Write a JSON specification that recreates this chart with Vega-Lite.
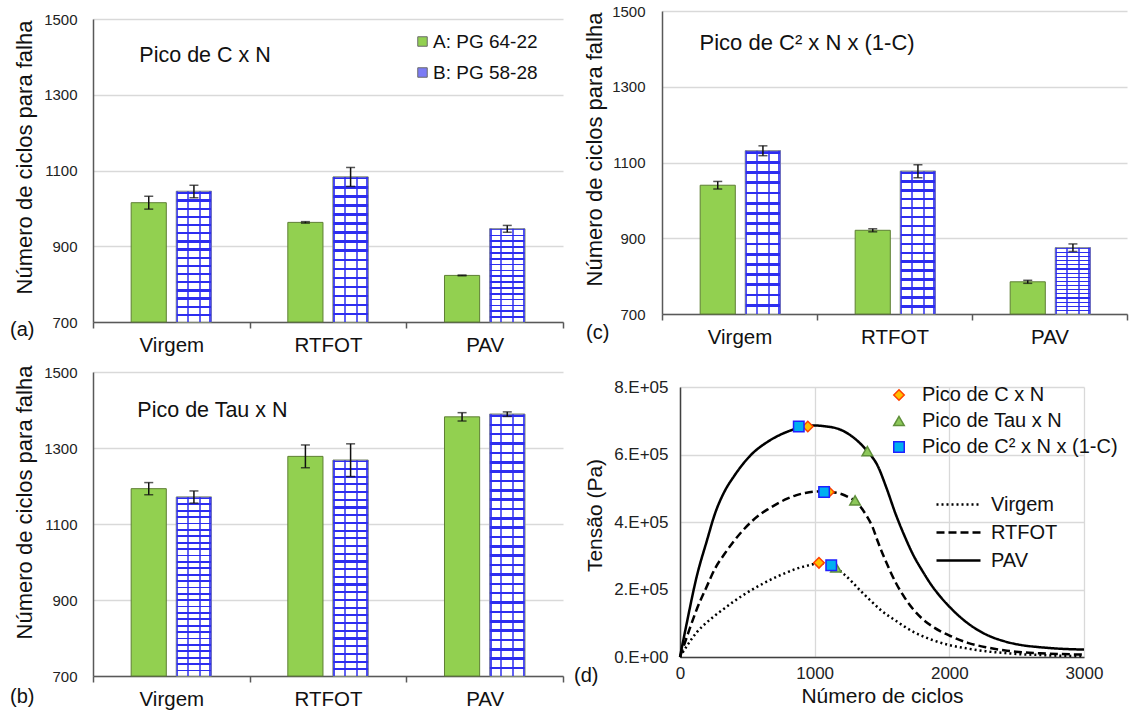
{
  "$schema": "https://vega.github.io/schema/vega-lite/v6.json",
  "padding": {"left": 10, "top": 4, "right": 5, "bottom": 2},
  "autosize": {"type": "pad"},
  "background": "white",
  "config": {
    "view": {"stroke": null},
    "font": "Liberation Sans",
    "axis": {"labelFont": "Liberation Sans", "titleFont": "Liberation Sans", "labelColor": "#222222", "titleColor": "#111111", "titleFontWeight": "normal", "gridColor": "#d9d9d9", "gridWidth": 1.3, "domainColor": "#595959", "domainWidth": 1.5, "tickColor": "#595959", "tickWidth": 1.5},
    "legend": {"labelFont": "Liberation Sans", "labelColor": "#111111", "labelLimit": 400},
    "title": {"font": "Liberation Sans", "fontWeight": "normal", "color": "#111111"}
  },
  "datasets": {
    "bars": [
      {"panel": "a", "cond": "Virgem", "grp": "A: PG 64-22", "v": 1015, "lo": 998, "hi": 1032},
      {"panel": "a", "cond": "Virgem", "grp": "B: PG 58-28", "v": 1045, "lo": 1028, "hi": 1061},
      {"panel": "a", "cond": "RTFOT", "grp": "A: PG 64-22", "v": 963, "lo": 961, "hi": 965},
      {"panel": "a", "cond": "RTFOT", "grp": "B: PG 58-28", "v": 1083, "lo": 1058, "hi": 1108},
      {"panel": "a", "cond": "PAV", "grp": "A: PG 64-22", "v": 823, "lo": 822, "hi": 824},
      {"panel": "a", "cond": "PAV", "grp": "B: PG 58-28", "v": 946, "lo": 937, "hi": 955},
      {"panel": "b", "cond": "Virgem", "grp": "A: PG 64-22", "v": 1193, "lo": 1177, "hi": 1209},
      {"panel": "b", "cond": "Virgem", "grp": "B: PG 58-28", "v": 1171, "lo": 1155, "hi": 1187},
      {"panel": "b", "cond": "RTFOT", "grp": "A: PG 64-22", "v": 1278, "lo": 1248, "hi": 1308},
      {"panel": "b", "cond": "RTFOT", "grp": "B: PG 58-28", "v": 1268, "lo": 1225, "hi": 1311},
      {"panel": "b", "cond": "PAV", "grp": "A: PG 64-22", "v": 1382, "lo": 1371, "hi": 1393},
      {"panel": "b", "cond": "PAV", "grp": "B: PG 58-28", "v": 1389, "lo": 1383, "hi": 1395},
      {"panel": "c", "cond": "Virgem", "grp": "A: PG 64-22", "v": 1040, "lo": 1030, "hi": 1050},
      {"panel": "c", "cond": "Virgem", "grp": "B: PG 58-28", "v": 1131, "lo": 1118, "hi": 1144},
      {"panel": "c", "cond": "RTFOT", "grp": "A: PG 64-22", "v": 921, "lo": 917, "hi": 925},
      {"panel": "c", "cond": "RTFOT", "grp": "B: PG 58-28", "v": 1077, "lo": 1060, "hi": 1094},
      {"panel": "c", "cond": "PAV", "grp": "A: PG 64-22", "v": 785, "lo": 781, "hi": 789},
      {"panel": "c", "cond": "PAV", "grp": "B: PG 58-28", "v": 875, "lo": 865, "hi": 885}
    ],
    "curves": [
      {"cond": "Virgem", "n": 0, "t": 0}, {"cond": "Virgem", "n": 60, "t": 38000}, {"cond": "Virgem", "n": 126, "t": 74000}, {"cond": "Virgem", "n": 200, "t": 103000},
      {"cond": "Virgem", "n": 260, "t": 123000}, {"cond": "Virgem", "n": 330, "t": 144000}, {"cond": "Virgem", "n": 394, "t": 163000}, {"cond": "Virgem", "n": 460, "t": 181000},
      {"cond": "Virgem", "n": 528, "t": 198000}, {"cond": "Virgem", "n": 600, "t": 214000}, {"cond": "Virgem", "n": 662, "t": 227000}, {"cond": "Virgem", "n": 730, "t": 240000},
      {"cond": "Virgem", "n": 796, "t": 251000}, {"cond": "Virgem", "n": 860, "t": 261000}, {"cond": "Virgem", "n": 930, "t": 269000}, {"cond": "Virgem", "n": 1000, "t": 276000},
      {"cond": "Virgem", "n": 1040, "t": 278000}, {"cond": "Virgem", "n": 1085, "t": 276000}, {"cond": "Virgem", "n": 1145, "t": 267000}, {"cond": "Virgem", "n": 1210, "t": 248000},
      {"cond": "Virgem", "n": 1279, "t": 222000}, {"cond": "Virgem", "n": 1346, "t": 194000}, {"cond": "Virgem", "n": 1413, "t": 168000}, {"cond": "Virgem", "n": 1500, "t": 136000},
      {"cond": "Virgem", "n": 1600, "t": 108000}, {"cond": "Virgem", "n": 1668, "t": 90000}, {"cond": "Virgem", "n": 1735, "t": 74000}, {"cond": "Virgem", "n": 1800, "t": 62000},
      {"cond": "Virgem", "n": 1869, "t": 51000}, {"cond": "Virgem", "n": 2003, "t": 35000}, {"cond": "Virgem", "n": 2137, "t": 25000}, {"cond": "Virgem", "n": 2271, "t": 17000},
      {"cond": "Virgem", "n": 2405, "t": 12000}, {"cond": "Virgem", "n": 2540, "t": 8000}, {"cond": "Virgem", "n": 2673, "t": 6000}, {"cond": "Virgem", "n": 2800, "t": 4000},
      {"cond": "Virgem", "n": 3000, "t": 3000},
      {"cond": "RTFOT", "n": 0, "t": 0}, {"cond": "RTFOT", "n": 60, "t": 70000}, {"cond": "RTFOT", "n": 126, "t": 143000}, {"cond": "RTFOT", "n": 200, "t": 210000},
      {"cond": "RTFOT", "n": 260, "t": 262000}, {"cond": "RTFOT", "n": 330, "t": 305000}, {"cond": "RTFOT", "n": 394, "t": 340000}, {"cond": "RTFOT", "n": 460, "t": 372000},
      {"cond": "RTFOT", "n": 528, "t": 400000}, {"cond": "RTFOT", "n": 600, "t": 424000}, {"cond": "RTFOT", "n": 662, "t": 440000}, {"cond": "RTFOT", "n": 730, "t": 456000},
      {"cond": "RTFOT", "n": 796, "t": 469000}, {"cond": "RTFOT", "n": 860, "t": 479000}, {"cond": "RTFOT", "n": 930, "t": 486000}, {"cond": "RTFOT", "n": 1000, "t": 490000},
      {"cond": "RTFOT", "n": 1064, "t": 491000}, {"cond": "RTFOT", "n": 1130, "t": 489000}, {"cond": "RTFOT", "n": 1198, "t": 483000}, {"cond": "RTFOT", "n": 1260, "t": 472000},
      {"cond": "RTFOT", "n": 1306, "t": 461000}, {"cond": "RTFOT", "n": 1350, "t": 440000}, {"cond": "RTFOT", "n": 1386, "t": 418000}, {"cond": "RTFOT", "n": 1430, "t": 385000},
      {"cond": "RTFOT", "n": 1466, "t": 345000}, {"cond": "RTFOT", "n": 1530, "t": 282000}, {"cond": "RTFOT", "n": 1600, "t": 222000}, {"cond": "RTFOT", "n": 1668, "t": 176000},
      {"cond": "RTFOT", "n": 1735, "t": 140000}, {"cond": "RTFOT", "n": 1800, "t": 113000}, {"cond": "RTFOT", "n": 1869, "t": 92000}, {"cond": "RTFOT", "n": 1935, "t": 76000},
      {"cond": "RTFOT", "n": 2003, "t": 63000}, {"cond": "RTFOT", "n": 2137, "t": 42000}, {"cond": "RTFOT", "n": 2271, "t": 29000}, {"cond": "RTFOT", "n": 2405, "t": 20000},
      {"cond": "RTFOT", "n": 2540, "t": 14000}, {"cond": "RTFOT", "n": 2673, "t": 11000}, {"cond": "RTFOT", "n": 2800, "t": 9000}, {"cond": "RTFOT", "n": 3000, "t": 7000},
      {"cond": "PAV", "n": 0, "t": 0}, {"cond": "PAV", "n": 50, "t": 100000}, {"cond": "PAV", "n": 125, "t": 240000}, {"cond": "PAV", "n": 200, "t": 345000},
      {"cond": "PAV", "n": 260, "t": 425000}, {"cond": "PAV", "n": 330, "t": 490000}, {"cond": "PAV", "n": 400, "t": 535000}, {"cond": "PAV", "n": 530, "t": 600000},
      {"cond": "PAV", "n": 660, "t": 640000}, {"cond": "PAV", "n": 800, "t": 668000}, {"cond": "PAV", "n": 930, "t": 683000}, {"cond": "PAV", "n": 1000, "t": 686000},
      {"cond": "PAV", "n": 1070, "t": 684000}, {"cond": "PAV", "n": 1200, "t": 672000}, {"cond": "PAV", "n": 1330, "t": 636000}, {"cond": "PAV", "n": 1391, "t": 610000},
      {"cond": "PAV", "n": 1466, "t": 568000}, {"cond": "PAV", "n": 1534, "t": 500000}, {"cond": "PAV", "n": 1600, "t": 425000}, {"cond": "PAV", "n": 1668, "t": 358000},
      {"cond": "PAV", "n": 1735, "t": 300000}, {"cond": "PAV", "n": 1800, "t": 255000}, {"cond": "PAV", "n": 1869, "t": 212000}, {"cond": "PAV", "n": 1935, "t": 178000},
      {"cond": "PAV", "n": 2003, "t": 148000}, {"cond": "PAV", "n": 2137, "t": 100000}, {"cond": "PAV", "n": 2271, "t": 67000}, {"cond": "PAV", "n": 2405, "t": 47000},
      {"cond": "PAV", "n": 2540, "t": 35000}, {"cond": "PAV", "n": 2673, "t": 29000}, {"cond": "PAV", "n": 2800, "t": 25000}, {"cond": "PAV", "n": 3000, "t": 22000}
    ],
    "peaks": [
      {"pk": "Pico de Tau x N", "cond": "Virgem", "n": 1158, "t": 265000},
      {"pk": "Pico de Tau x N", "cond": "RTFOT", "n": 1300, "t": 464000},
      {"pk": "Pico de Tau x N", "cond": "PAV", "n": 1391, "t": 610000},
      {"pk": "Pico de C x N", "cond": "Virgem", "n": 1032, "t": 279000},
      {"pk": "Pico de C x N", "cond": "RTFOT", "n": 1105, "t": 489000},
      {"pk": "Pico de C x N", "cond": "PAV", "n": 949, "t": 683000},
      {"pk": "Pico de C² x N x (1-C)", "cond": "Virgem", "n": 1123, "t": 272000},
      {"pk": "Pico de C² x N x (1-C)", "cond": "RTFOT", "n": 1070, "t": 489000},
      {"pk": "Pico de C² x N x (1-C)", "cond": "PAV", "n": 882, "t": 683000}
    ]
  },
  "resolve": {"scale": {"color": "independent", "fill": "independent", "stroke": "independent", "shape": "independent", "strokeDash": "independent"}},
  "hconcat": [
    {
      "resolve": {"scale": {"color": "independent", "fill": "independent", "stroke": "independent", "shape": "independent", "strokeDash": "independent"}},
      "vconcat": [
        {"width": 1, "height": 1, "data": {"values": []}, "mark": "point"},
        {
          "resolve": {"scale": {"color": "independent", "fill": "independent", "stroke": "independent", "shape": "independent", "strokeDash": "independent"}},
          "vconcat": [
            {
              "width": 470, "height": 303,
              "data": {"name": "bars"},
              "transform": [{"filter": "datum.panel == 'a'"}],
              "title": {"text": "(a)", "orient": "bottom", "anchor": "start", "frame": "group", "offset": -36, "dx": -83, "fontSize": 20},
              "encoding": {
                "x": {"field": "cond", "type": "nominal", "title": null, "scale": {"domain": ["Virgem", "RTFOT", "PAV"], "paddingInner": 0, "paddingOuter": 0}, "axis": {"labelAngle": 0, "tickBand": "extent", "ticks": true, "tickSize": 6, "labelFontSize": 20.5, "labelPadding": 7, "labelColor": "#111111"}}
              },
              "layer": [
                {"mark": {"type": "bar", "stroke": "#5e7f34", "strokeWidth": 1},
                 "encoding": {
                   "xOffset": {"field": "grp", "type": "nominal", "scale": {"domain": ["A: PG 64-22", "B: PG 58-28"], "paddingInner": 0.2222, "paddingOuter": 0.8444}},
                   "y": {"field": "v", "type": "quantitative", "title": "Número de ciclos para falha", "scale": {"domain": [700, 1500], "nice": false}, "axis": {"values": [700, 900, 1100, 1300, 1500], "format": "d", "grid": true, "ticks": false, "tickSize": 0, "labelFontSize": 15, "labelPadding": 16, "titleFontSize": 22, "titlePadding": 7, "titleY": 138}},
                   "y2": {"datum": 700},
                   "color": {"field": "grp", "type": "nominal", "scale": {"domain": ["A: PG 64-22", "B: PG 58-28"], "range": ["#92d050", "#7b7bf5"]}, "legend": {"title": null, "orient": "none", "legendX": 320, "legendY": 13, "symbolType": "square", "symbolSize": 90, "symbolStrokeColor": "#6b6b6b", "symbolStrokeWidth": 1, "labelFontSize": 19, "labelOffset": 1, "rowPadding": 11}}
                 }},
                {"transform": [{"filter": "datum.grp == 'B: PG 58-28'"}],
                 "mark": {"type": "bar", "stroke": "#a0a0a0", "strokeWidth": 1, "fill": {"gradient": "linear", "x1": 0, "y1": 0, "x2": 0, "y2": 1, "stops": [
                    {"offset": 0, "color": "#2d2df0"}, {"offset": 0.0175, "color": "#2d2df0"}, {"offset": 0.0175, "color": "#ffffff"}, {"offset": 0.0625, "color": "#ffffff"},
                    {"offset": 0.0625, "color": "#2d2df0"}, {"offset": 0.08, "color": "#2d2df0"}, {"offset": 0.08, "color": "#ffffff"}, {"offset": 0.125, "color": "#ffffff"},
                    {"offset": 0.125, "color": "#2d2df0"}, {"offset": 0.1425, "color": "#2d2df0"}, {"offset": 0.1425, "color": "#ffffff"}, {"offset": 0.1875, "color": "#ffffff"},
                    {"offset": 0.1875, "color": "#2d2df0"}, {"offset": 0.205, "color": "#2d2df0"}, {"offset": 0.205, "color": "#ffffff"}, {"offset": 0.25, "color": "#ffffff"},
                    {"offset": 0.25, "color": "#2d2df0"}, {"offset": 0.2675, "color": "#2d2df0"}, {"offset": 0.2675, "color": "#ffffff"}, {"offset": 0.3125, "color": "#ffffff"},
                    {"offset": 0.3125, "color": "#2d2df0"}, {"offset": 0.33, "color": "#2d2df0"}, {"offset": 0.33, "color": "#ffffff"}, {"offset": 0.375, "color": "#ffffff"},
                    {"offset": 0.375, "color": "#2d2df0"}, {"offset": 0.3925, "color": "#2d2df0"}, {"offset": 0.3925, "color": "#ffffff"}, {"offset": 0.4375, "color": "#ffffff"},
                    {"offset": 0.4375, "color": "#2d2df0"}, {"offset": 0.455, "color": "#2d2df0"}, {"offset": 0.455, "color": "#ffffff"}, {"offset": 0.5, "color": "#ffffff"},
                    {"offset": 0.5, "color": "#2d2df0"}, {"offset": 0.5175, "color": "#2d2df0"}, {"offset": 0.5175, "color": "#ffffff"}, {"offset": 0.5625, "color": "#ffffff"},
                    {"offset": 0.5625, "color": "#2d2df0"}, {"offset": 0.58, "color": "#2d2df0"}, {"offset": 0.58, "color": "#ffffff"}, {"offset": 0.625, "color": "#ffffff"},
                    {"offset": 0.625, "color": "#2d2df0"}, {"offset": 0.6425, "color": "#2d2df0"}, {"offset": 0.6425, "color": "#ffffff"}, {"offset": 0.6875, "color": "#ffffff"},
                    {"offset": 0.6875, "color": "#2d2df0"}, {"offset": 0.705, "color": "#2d2df0"}, {"offset": 0.705, "color": "#ffffff"}, {"offset": 0.75, "color": "#ffffff"},
                    {"offset": 0.75, "color": "#2d2df0"}, {"offset": 0.7675, "color": "#2d2df0"}, {"offset": 0.7675, "color": "#ffffff"}, {"offset": 0.8125, "color": "#ffffff"},
                    {"offset": 0.8125, "color": "#2d2df0"}, {"offset": 0.83, "color": "#2d2df0"}, {"offset": 0.83, "color": "#ffffff"}, {"offset": 0.875, "color": "#ffffff"},
                    {"offset": 0.875, "color": "#2d2df0"}, {"offset": 0.8925, "color": "#2d2df0"}, {"offset": 0.8925, "color": "#ffffff"}, {"offset": 0.9375, "color": "#ffffff"},
                    {"offset": 0.9375, "color": "#2d2df0"}, {"offset": 0.955, "color": "#2d2df0"}, {"offset": 0.955, "color": "#ffffff"}, {"offset": 1, "color": "#ffffff"}
                 ]}},
                 "encoding": {
                   "xOffset": {"field": "grp", "type": "nominal", "scale": {"domain": ["A: PG 64-22", "B: PG 58-28"], "paddingInner": 0.2222, "paddingOuter": 0.8444}},
                   "y": {"field": "v", "type": "quantitative", "title": "Número de ciclos para falha", "scale": {"domain": [700, 1500], "nice": false}},
                   "y2": {"datum": 700}
                 }},
                {"transform": [{"filter": "datum.grp == 'B: PG 58-28'"}],
                 "mark": {"type": "bar", "strokeWidth": 0, "fill": {"gradient": "linear", "x1": 0, "y1": 0, "x2": 1, "y2": 0, "stops": [
                    {"offset": 0, "color": "rgba(45,45,240,0.85)"}, {"offset": 0.06, "color": "rgba(45,45,240,0.85)"}, {"offset": 0.06, "color": "rgba(255,255,255,0)"},
                    {"offset": 0.3, "color": "rgba(255,255,255,0)"}, {"offset": 0.3, "color": "rgba(45,45,240,0.75)"}, {"offset": 0.36, "color": "rgba(45,45,240,0.75)"}, {"offset": 0.36, "color": "rgba(255,255,255,0)"},
                    {"offset": 0.64, "color": "rgba(255,255,255,0)"}, {"offset": 0.64, "color": "rgba(45,45,240,0.75)"}, {"offset": 0.7, "color": "rgba(45,45,240,0.75)"}, {"offset": 0.7, "color": "rgba(255,255,255,0)"},
                    {"offset": 0.94, "color": "rgba(255,255,255,0)"}, {"offset": 0.94, "color": "rgba(45,45,240,0.85)"}, {"offset": 1, "color": "rgba(45,45,240,0.85)"}
                 ]}},
                 "encoding": {
                   "xOffset": {"field": "grp", "type": "nominal", "scale": {"domain": ["A: PG 64-22", "B: PG 58-28"], "paddingInner": 0.2222, "paddingOuter": 0.8444}},
                   "y": {"field": "v", "type": "quantitative", "title": "Número de ciclos para falha", "scale": {"domain": [700, 1500], "nice": false}},
                   "y2": {"datum": 700}
                 }},
                {"mark": {"type": "rule", "color": "#111111", "strokeWidth": 1.5},
                 "encoding": {
                   "xOffset": {"field": "grp", "type": "nominal", "scale": {"domain": ["A: PG 64-22", "B: PG 58-28"], "paddingInner": 0.2222, "paddingOuter": 0.8444}},
                   "y": {"field": "lo", "type": "quantitative", "title": "Número de ciclos para falha", "scale": {"domain": [700, 1500], "nice": false}},
                   "y2": {"field": "hi"}
                 }},
                {"mark": {"type": "tick", "color": "#111111", "size": 9, "thickness": 1.5},
                 "encoding": {
                   "xOffset": {"field": "grp", "type": "nominal", "scale": {"domain": ["A: PG 64-22", "B: PG 58-28"], "paddingInner": 0.2222, "paddingOuter": 0.8444}},
                   "y": {"field": "lo", "type": "quantitative", "title": "Número de ciclos para falha", "scale": {"domain": [700, 1500], "nice": false}}
                 }},
                {"mark": {"type": "tick", "color": "#111111", "size": 9, "thickness": 1.5},
                 "encoding": {
                   "xOffset": {"field": "grp", "type": "nominal", "scale": {"domain": ["A: PG 64-22", "B: PG 58-28"], "paddingInner": 0.2222, "paddingOuter": 0.8444}},
                   "y": {"field": "hi", "type": "quantitative", "title": "Número de ciclos para falha", "scale": {"domain": [700, 1500], "nice": false}}
                 }},
                {"data": {"values": [{"panel": "a"}]}, "mark": {"type": "text", "align": "left", "baseline": "middle", "fontSize": 21.5, "dx": -32, "color": "#111111"},
                 "encoding": {"x": {"datum": "Virgem"}, "y": {"datum": 1402}, "text": {"value": "Pico de C x N"}}}
              ]
            },
            {
              "width": 470, "height": 304,
              "data": {"name": "bars"},
              "transform": [{"filter": "datum.panel == 'b'"}],
              "title": {"text": "(b)", "orient": "bottom", "anchor": "start", "frame": "group", "offset": -23, "dx": -83, "fontSize": 20},
              "encoding": {
                "x": {"field": "cond", "type": "nominal", "title": null, "scale": {"domain": ["Virgem", "RTFOT", "PAV"], "paddingInner": 0, "paddingOuter": 0}, "axis": {"labelAngle": 0, "tickBand": "extent", "ticks": true, "tickSize": 6, "labelFontSize": 20.5, "labelPadding": 7, "labelColor": "#111111"}}
              },
              "layer": [
                {"mark": {"type": "bar", "stroke": "#5e7f34", "strokeWidth": 1},
                 "encoding": {
                   "xOffset": {"field": "grp", "type": "nominal", "scale": {"domain": ["A: PG 64-22", "B: PG 58-28"], "paddingInner": 0.2222, "paddingOuter": 0.8444}},
                   "y": {"field": "v", "type": "quantitative", "title": "Número de ciclos para falha", "scale": {"domain": [700, 1500], "nice": false}, "axis": {"values": [700, 900, 1100, 1300, 1500], "format": "d", "grid": true, "ticks": false, "tickSize": 0, "labelFontSize": 15, "labelPadding": 16, "titleFontSize": 22, "titlePadding": 7, "titleY": 130}},
                   "y2": {"datum": 700},
                   "color": {"field": "grp", "type": "nominal", "scale": {"domain": ["A: PG 64-22", "B: PG 58-28"], "range": ["#92d050", "#7b7bf5"]}, "legend": null}
                 }},
                {"transform": [{"filter": "datum.grp == 'B: PG 58-28'"}],
                 "mark": {"type": "bar", "stroke": "#a0a0a0", "strokeWidth": 1, "fill": {"gradient": "linear", "x1": 0, "y1": 0, "x2": 0, "y2": 1, "stops": [
                    {"offset": 0, "color": "#2d2df0"}, {"offset": 0.01, "color": "#2d2df0"}, {"offset": 0.01, "color": "#ffffff"}, {"offset": 0.0357, "color": "#ffffff"},
                    {"offset": 0.0357, "color": "#2d2df0"}, {"offset": 0.0457, "color": "#2d2df0"}, {"offset": 0.0457, "color": "#ffffff"}, {"offset": 0.0714, "color": "#ffffff"},
                    {"offset": 0.0714, "color": "#2d2df0"}, {"offset": 0.0814, "color": "#2d2df0"}, {"offset": 0.0814, "color": "#ffffff"}, {"offset": 0.1071, "color": "#ffffff"},
                    {"offset": 0.1071, "color": "#2d2df0"}, {"offset": 0.1171, "color": "#2d2df0"}, {"offset": 0.1171, "color": "#ffffff"}, {"offset": 0.1429, "color": "#ffffff"},
                    {"offset": 0.1429, "color": "#2d2df0"}, {"offset": 0.1529, "color": "#2d2df0"}, {"offset": 0.1529, "color": "#ffffff"}, {"offset": 0.1786, "color": "#ffffff"},
                    {"offset": 0.1786, "color": "#2d2df0"}, {"offset": 0.1886, "color": "#2d2df0"}, {"offset": 0.1886, "color": "#ffffff"}, {"offset": 0.2143, "color": "#ffffff"},
                    {"offset": 0.2143, "color": "#2d2df0"}, {"offset": 0.2243, "color": "#2d2df0"}, {"offset": 0.2243, "color": "#ffffff"}, {"offset": 0.25, "color": "#ffffff"},
                    {"offset": 0.25, "color": "#2d2df0"}, {"offset": 0.26, "color": "#2d2df0"}, {"offset": 0.26, "color": "#ffffff"}, {"offset": 0.2857, "color": "#ffffff"},
                    {"offset": 0.2857, "color": "#2d2df0"}, {"offset": 0.2957, "color": "#2d2df0"}, {"offset": 0.2957, "color": "#ffffff"}, {"offset": 0.3214, "color": "#ffffff"},
                    {"offset": 0.3214, "color": "#2d2df0"}, {"offset": 0.3314, "color": "#2d2df0"}, {"offset": 0.3314, "color": "#ffffff"}, {"offset": 0.3571, "color": "#ffffff"},
                    {"offset": 0.3571, "color": "#2d2df0"}, {"offset": 0.3671, "color": "#2d2df0"}, {"offset": 0.3671, "color": "#ffffff"}, {"offset": 0.3929, "color": "#ffffff"},
                    {"offset": 0.3929, "color": "#2d2df0"}, {"offset": 0.4029, "color": "#2d2df0"}, {"offset": 0.4029, "color": "#ffffff"}, {"offset": 0.4286, "color": "#ffffff"},
                    {"offset": 0.4286, "color": "#2d2df0"}, {"offset": 0.4386, "color": "#2d2df0"}, {"offset": 0.4386, "color": "#ffffff"}, {"offset": 0.4643, "color": "#ffffff"},
                    {"offset": 0.4643, "color": "#2d2df0"}, {"offset": 0.4743, "color": "#2d2df0"}, {"offset": 0.4743, "color": "#ffffff"}, {"offset": 0.5, "color": "#ffffff"},
                    {"offset": 0.5, "color": "#2d2df0"}, {"offset": 0.51, "color": "#2d2df0"}, {"offset": 0.51, "color": "#ffffff"}, {"offset": 0.5357, "color": "#ffffff"},
                    {"offset": 0.5357, "color": "#2d2df0"}, {"offset": 0.5457, "color": "#2d2df0"}, {"offset": 0.5457, "color": "#ffffff"}, {"offset": 0.5714, "color": "#ffffff"},
                    {"offset": 0.5714, "color": "#2d2df0"}, {"offset": 0.5814, "color": "#2d2df0"}, {"offset": 0.5814, "color": "#ffffff"}, {"offset": 0.6071, "color": "#ffffff"},
                    {"offset": 0.6071, "color": "#2d2df0"}, {"offset": 0.6171, "color": "#2d2df0"}, {"offset": 0.6171, "color": "#ffffff"}, {"offset": 0.6429, "color": "#ffffff"},
                    {"offset": 0.6429, "color": "#2d2df0"}, {"offset": 0.6529, "color": "#2d2df0"}, {"offset": 0.6529, "color": "#ffffff"}, {"offset": 0.6786, "color": "#ffffff"},
                    {"offset": 0.6786, "color": "#2d2df0"}, {"offset": 0.6886, "color": "#2d2df0"}, {"offset": 0.6886, "color": "#ffffff"}, {"offset": 0.7143, "color": "#ffffff"},
                    {"offset": 0.7143, "color": "#2d2df0"}, {"offset": 0.7243, "color": "#2d2df0"}, {"offset": 0.7243, "color": "#ffffff"}, {"offset": 0.75, "color": "#ffffff"},
                    {"offset": 0.75, "color": "#2d2df0"}, {"offset": 0.76, "color": "#2d2df0"}, {"offset": 0.76, "color": "#ffffff"}, {"offset": 0.7857, "color": "#ffffff"},
                    {"offset": 0.7857, "color": "#2d2df0"}, {"offset": 0.7957, "color": "#2d2df0"}, {"offset": 0.7957, "color": "#ffffff"}, {"offset": 0.8214, "color": "#ffffff"},
                    {"offset": 0.8214, "color": "#2d2df0"}, {"offset": 0.8314, "color": "#2d2df0"}, {"offset": 0.8314, "color": "#ffffff"}, {"offset": 0.8571, "color": "#ffffff"},
                    {"offset": 0.8571, "color": "#2d2df0"}, {"offset": 0.8671, "color": "#2d2df0"}, {"offset": 0.8671, "color": "#ffffff"}, {"offset": 0.8929, "color": "#ffffff"},
                    {"offset": 0.8929, "color": "#2d2df0"}, {"offset": 0.9029, "color": "#2d2df0"}, {"offset": 0.9029, "color": "#ffffff"}, {"offset": 0.9286, "color": "#ffffff"},
                    {"offset": 0.9286, "color": "#2d2df0"}, {"offset": 0.9386, "color": "#2d2df0"}, {"offset": 0.9386, "color": "#ffffff"}, {"offset": 0.9643, "color": "#ffffff"},
                    {"offset": 0.9643, "color": "#2d2df0"}, {"offset": 0.9743, "color": "#2d2df0"}, {"offset": 0.9743, "color": "#ffffff"}, {"offset": 1, "color": "#ffffff"}
                 ]}},
                 "encoding": {
                   "xOffset": {"field": "grp", "type": "nominal", "scale": {"domain": ["A: PG 64-22", "B: PG 58-28"], "paddingInner": 0.2222, "paddingOuter": 0.8444}},
                   "y": {"field": "v", "type": "quantitative", "title": "Número de ciclos para falha", "scale": {"domain": [700, 1500], "nice": false}},
                   "y2": {"datum": 700}
                 }},
                {"transform": [{"filter": "datum.grp == 'B: PG 58-28'"}],
                 "mark": {"type": "bar", "strokeWidth": 0, "fill": {"gradient": "linear", "x1": 0, "y1": 0, "x2": 1, "y2": 0, "stops": [
                    {"offset": 0, "color": "rgba(45,45,240,0.85)"}, {"offset": 0.06, "color": "rgba(45,45,240,0.85)"}, {"offset": 0.06, "color": "rgba(255,255,255,0)"},
                    {"offset": 0.3, "color": "rgba(255,255,255,0)"}, {"offset": 0.3, "color": "rgba(45,45,240,0.75)"}, {"offset": 0.36, "color": "rgba(45,45,240,0.75)"}, {"offset": 0.36, "color": "rgba(255,255,255,0)"},
                    {"offset": 0.64, "color": "rgba(255,255,255,0)"}, {"offset": 0.64, "color": "rgba(45,45,240,0.75)"}, {"offset": 0.7, "color": "rgba(45,45,240,0.75)"}, {"offset": 0.7, "color": "rgba(255,255,255,0)"},
                    {"offset": 0.94, "color": "rgba(255,255,255,0)"}, {"offset": 0.94, "color": "rgba(45,45,240,0.85)"}, {"offset": 1, "color": "rgba(45,45,240,0.85)"}
                 ]}},
                 "encoding": {
                   "xOffset": {"field": "grp", "type": "nominal", "scale": {"domain": ["A: PG 64-22", "B: PG 58-28"], "paddingInner": 0.2222, "paddingOuter": 0.8444}},
                   "y": {"field": "v", "type": "quantitative", "title": "Número de ciclos para falha", "scale": {"domain": [700, 1500], "nice": false}},
                   "y2": {"datum": 700}
                 }},
                {"mark": {"type": "rule", "color": "#111111", "strokeWidth": 1.5},
                 "encoding": {
                   "xOffset": {"field": "grp", "type": "nominal", "scale": {"domain": ["A: PG 64-22", "B: PG 58-28"], "paddingInner": 0.2222, "paddingOuter": 0.8444}},
                   "y": {"field": "lo", "type": "quantitative", "title": "Número de ciclos para falha", "scale": {"domain": [700, 1500], "nice": false}},
                   "y2": {"field": "hi"}
                 }},
                {"mark": {"type": "tick", "color": "#111111", "size": 9, "thickness": 1.5},
                 "encoding": {
                   "xOffset": {"field": "grp", "type": "nominal", "scale": {"domain": ["A: PG 64-22", "B: PG 58-28"], "paddingInner": 0.2222, "paddingOuter": 0.8444}},
                   "y": {"field": "lo", "type": "quantitative", "title": "Número de ciclos para falha", "scale": {"domain": [700, 1500], "nice": false}}
                 }},
                {"mark": {"type": "tick", "color": "#111111", "size": 9, "thickness": 1.5},
                 "encoding": {
                   "xOffset": {"field": "grp", "type": "nominal", "scale": {"domain": ["A: PG 64-22", "B: PG 58-28"], "paddingInner": 0.2222, "paddingOuter": 0.8444}},
                   "y": {"field": "hi", "type": "quantitative", "title": "Número de ciclos para falha", "scale": {"domain": [700, 1500], "nice": false}}
                 }},
                {"data": {"values": [{"panel": "b"}]}, "mark": {"type": "text", "align": "left", "baseline": "middle", "fontSize": 21.5, "dx": -34, "color": "#111111"},
                 "encoding": {"x": {"datum": "Virgem"}, "y": {"datum": 1397}, "text": {"value": "Pico de Tau x N"}}}
              ]
            }
          ],
          "spacing": 50,
          "bounds": "flush"
        }
      ],
      "spacing": 0
    },
    {
      "resolve": {"scale": {"color": "independent", "fill": "independent", "stroke": "independent", "shape": "independent", "strokeDash": "independent"}},
      "vconcat": [
        {
          "width": 465, "height": 303,
          "data": {"name": "bars"},
          "transform": [{"filter": "datum.panel == 'c'"}],
          "title": {"text": "(c)", "orient": "bottom", "anchor": "start", "frame": "group", "offset": -25, "dx": -76, "fontSize": 20},
          "encoding": {
            "x": {"field": "cond", "type": "nominal", "title": null, "scale": {"domain": ["Virgem", "RTFOT", "PAV"], "paddingInner": 0, "paddingOuter": 0}, "axis": {"labelAngle": 0, "tickBand": "extent", "ticks": true, "tickSize": 6, "labelFontSize": 20.5, "labelPadding": 7, "labelColor": "#111111"}}
          },
          "layer": [
            {"mark": {"type": "bar", "stroke": "#5e7f34", "strokeWidth": 1},
             "encoding": {
               "xOffset": {"field": "grp", "type": "nominal", "scale": {"domain": ["A: PG 64-22", "B: PG 58-28"], "paddingInner": 0.2222, "paddingOuter": 0.8444}},
               "y": {"field": "v", "type": "quantitative", "title": "Número de ciclos para falha", "scale": {"domain": [700, 1500], "nice": false}, "axis": {"values": [700, 900, 1100, 1300, 1500], "format": "d", "grid": true, "ticks": false, "tickSize": 0, "labelFontSize": 15, "labelPadding": 17, "titleFontSize": 22, "titlePadding": 5, "titleY": 138}},
               "y2": {"datum": 700},
               "color": {"field": "grp", "type": "nominal", "scale": {"domain": ["A: PG 64-22", "B: PG 58-28"], "range": ["#92d050", "#7b7bf5"]}, "legend": null}
             }},
            {"transform": [{"filter": "datum.grp == 'B: PG 58-28'"}],
             "mark": {"type": "bar", "stroke": "#a0a0a0", "strokeWidth": 1, "fill": {"gradient": "linear", "x1": 0, "y1": 0, "x2": 0, "y2": 1, "stops": [
                {"offset": 0, "color": "#2d2df0"}, {"offset": 0.0175, "color": "#2d2df0"}, {"offset": 0.0175, "color": "#ffffff"}, {"offset": 0.0625, "color": "#ffffff"},
                {"offset": 0.0625, "color": "#2d2df0"}, {"offset": 0.08, "color": "#2d2df0"}, {"offset": 0.08, "color": "#ffffff"}, {"offset": 0.125, "color": "#ffffff"},
                {"offset": 0.125, "color": "#2d2df0"}, {"offset": 0.1425, "color": "#2d2df0"}, {"offset": 0.1425, "color": "#ffffff"}, {"offset": 0.1875, "color": "#ffffff"},
                {"offset": 0.1875, "color": "#2d2df0"}, {"offset": 0.205, "color": "#2d2df0"}, {"offset": 0.205, "color": "#ffffff"}, {"offset": 0.25, "color": "#ffffff"},
                {"offset": 0.25, "color": "#2d2df0"}, {"offset": 0.2675, "color": "#2d2df0"}, {"offset": 0.2675, "color": "#ffffff"}, {"offset": 0.3125, "color": "#ffffff"},
                {"offset": 0.3125, "color": "#2d2df0"}, {"offset": 0.33, "color": "#2d2df0"}, {"offset": 0.33, "color": "#ffffff"}, {"offset": 0.375, "color": "#ffffff"},
                {"offset": 0.375, "color": "#2d2df0"}, {"offset": 0.3925, "color": "#2d2df0"}, {"offset": 0.3925, "color": "#ffffff"}, {"offset": 0.4375, "color": "#ffffff"},
                {"offset": 0.4375, "color": "#2d2df0"}, {"offset": 0.455, "color": "#2d2df0"}, {"offset": 0.455, "color": "#ffffff"}, {"offset": 0.5, "color": "#ffffff"},
                {"offset": 0.5, "color": "#2d2df0"}, {"offset": 0.5175, "color": "#2d2df0"}, {"offset": 0.5175, "color": "#ffffff"}, {"offset": 0.5625, "color": "#ffffff"},
                {"offset": 0.5625, "color": "#2d2df0"}, {"offset": 0.58, "color": "#2d2df0"}, {"offset": 0.58, "color": "#ffffff"}, {"offset": 0.625, "color": "#ffffff"},
                {"offset": 0.625, "color": "#2d2df0"}, {"offset": 0.6425, "color": "#2d2df0"}, {"offset": 0.6425, "color": "#ffffff"}, {"offset": 0.6875, "color": "#ffffff"},
                {"offset": 0.6875, "color": "#2d2df0"}, {"offset": 0.705, "color": "#2d2df0"}, {"offset": 0.705, "color": "#ffffff"}, {"offset": 0.75, "color": "#ffffff"},
                {"offset": 0.75, "color": "#2d2df0"}, {"offset": 0.7675, "color": "#2d2df0"}, {"offset": 0.7675, "color": "#ffffff"}, {"offset": 0.8125, "color": "#ffffff"},
                {"offset": 0.8125, "color": "#2d2df0"}, {"offset": 0.83, "color": "#2d2df0"}, {"offset": 0.83, "color": "#ffffff"}, {"offset": 0.875, "color": "#ffffff"},
                {"offset": 0.875, "color": "#2d2df0"}, {"offset": 0.8925, "color": "#2d2df0"}, {"offset": 0.8925, "color": "#ffffff"}, {"offset": 0.9375, "color": "#ffffff"},
                {"offset": 0.9375, "color": "#2d2df0"}, {"offset": 0.955, "color": "#2d2df0"}, {"offset": 0.955, "color": "#ffffff"}, {"offset": 1, "color": "#ffffff"}
             ]}},
             "encoding": {
               "xOffset": {"field": "grp", "type": "nominal", "scale": {"domain": ["A: PG 64-22", "B: PG 58-28"], "paddingInner": 0.2222, "paddingOuter": 0.8444}},
               "y": {"field": "v", "type": "quantitative", "title": "Número de ciclos para falha", "scale": {"domain": [700, 1500], "nice": false}},
               "y2": {"datum": 700}
             }},
            {"transform": [{"filter": "datum.grp == 'B: PG 58-28'"}],
             "mark": {"type": "bar", "strokeWidth": 0, "fill": {"gradient": "linear", "x1": 0, "y1": 0, "x2": 1, "y2": 0, "stops": [
                {"offset": 0, "color": "rgba(45,45,240,0.85)"}, {"offset": 0.06, "color": "rgba(45,45,240,0.85)"}, {"offset": 0.06, "color": "rgba(255,255,255,0)"},
                {"offset": 0.3, "color": "rgba(255,255,255,0)"}, {"offset": 0.3, "color": "rgba(45,45,240,0.75)"}, {"offset": 0.36, "color": "rgba(45,45,240,0.75)"}, {"offset": 0.36, "color": "rgba(255,255,255,0)"},
                {"offset": 0.64, "color": "rgba(255,255,255,0)"}, {"offset": 0.64, "color": "rgba(45,45,240,0.75)"}, {"offset": 0.7, "color": "rgba(45,45,240,0.75)"}, {"offset": 0.7, "color": "rgba(255,255,255,0)"},
                {"offset": 0.94, "color": "rgba(255,255,255,0)"}, {"offset": 0.94, "color": "rgba(45,45,240,0.85)"}, {"offset": 1, "color": "rgba(45,45,240,0.85)"}
             ]}},
             "encoding": {
               "xOffset": {"field": "grp", "type": "nominal", "scale": {"domain": ["A: PG 64-22", "B: PG 58-28"], "paddingInner": 0.2222, "paddingOuter": 0.8444}},
               "y": {"field": "v", "type": "quantitative", "title": "Número de ciclos para falha", "scale": {"domain": [700, 1500], "nice": false}},
               "y2": {"datum": 700}
             }},
            {"mark": {"type": "rule", "color": "#111111", "strokeWidth": 1.5},
             "encoding": {
               "xOffset": {"field": "grp", "type": "nominal", "scale": {"domain": ["A: PG 64-22", "B: PG 58-28"], "paddingInner": 0.2222, "paddingOuter": 0.8444}},
               "y": {"field": "lo", "type": "quantitative", "title": "Número de ciclos para falha", "scale": {"domain": [700, 1500], "nice": false}},
               "y2": {"field": "hi"}
             }},
            {"mark": {"type": "tick", "color": "#111111", "size": 9, "thickness": 1.5},
             "encoding": {
               "xOffset": {"field": "grp", "type": "nominal", "scale": {"domain": ["A: PG 64-22", "B: PG 58-28"], "paddingInner": 0.2222, "paddingOuter": 0.8444}},
               "y": {"field": "lo", "type": "quantitative", "title": "Número de ciclos para falha", "scale": {"domain": [700, 1500], "nice": false}}
             }},
            {"mark": {"type": "tick", "color": "#111111", "size": 9, "thickness": 1.5},
             "encoding": {
               "xOffset": {"field": "grp", "type": "nominal", "scale": {"domain": ["A: PG 64-22", "B: PG 58-28"], "paddingInner": 0.2222, "paddingOuter": 0.8444}},
               "y": {"field": "hi", "type": "quantitative", "title": "Número de ciclos para falha", "scale": {"domain": [700, 1500], "nice": false}}
             }},
            {"data": {"values": [{"panel": "c"}]}, "mark": {"type": "text", "align": "left", "baseline": "middle", "fontSize": 22, "dx": -40, "color": "#111111"},
             "encoding": {"x": {"datum": "Virgem"}, "y": {"datum": 1415}, "text": {"value": "Pico de C² x N x (1-C)"}}}
          ]
        },
        {
          "resolve": {"scale": {"color": "independent", "fill": "independent", "stroke": "independent", "shape": "independent", "strokeDash": "independent"}},
          "hconcat": [
            {"width": 18, "height": 1, "data": {"values": []}, "mark": "point"},
            {
              "width": 404, "height": 270,
              "title": {"text": "(d)", "orient": "bottom", "anchor": "start", "frame": "group", "offset": -40, "dx": -106, "fontSize": 20},
              "layer": [
                {"data": {"name": "curves"},
                 "mark": {"type": "line", "color": "#000000", "strokeWidth": 2.5, "interpolate": "monotone"},
                 "encoding": {
                   "x": {"field": "n", "type": "quantitative", "title": "Número de ciclos", "scale": {"domain": [0, 3000], "nice": false}, "axis": {"values": [0, 1000, 2000, 3000], "format": "d", "labelFlush": false, "grid": true, "ticks": false, "tickSize": 0, "labelFontSize": 17, "labelPadding": 8, "titleFontSize": 21, "titlePadding": 4, "domainColor": "#404040"}},
                   "y": {"field": "t", "type": "quantitative", "title": "Tensão (Pa)", "scale": {"domain": [0, 800000], "nice": false}, "axis": {"values": [0, 200000, 400000, 600000, 800000], "labelExpr": "datum.value == 0 ? '0.E+00' : (datum.value / 100000) + '.E+05'", "grid": true, "ticks": false, "tickSize": 0, "labelFontSize": 17, "labelPadding": 12, "titleFontSize": 21, "titlePadding": 8, "titleY": 128, "domainColor": "#404040"}},
                   "strokeDash": {"field": "cond", "type": "nominal", "scale": {"domain": ["Virgem", "RTFOT", "PAV"], "range": [[2, 3], [8, 4], [1, 0]]}, "legend": {"title": null, "orient": "none", "legendX": 266, "legendY": 105, "symbolType": "M-2,0H2", "symbolSize": 484, "symbolStrokeWidth": 2.5, "symbolStrokeColor": "#000000", "symbolFillColor": "transparent", "labelFontSize": 20, "labelOffset": 20, "rowPadding": 5}},
                   "order": {"field": "n", "type": "quantitative"}
                 }},
                {"data": {"name": "peaks"},
                 "mark": {"type": "point", "filled": true, "opacity": 1, "size": 110, "strokeWidth": 1.5},
                 "encoding": {
                   "x": {"field": "n", "type": "quantitative", "title": "Número de ciclos", "scale": {"domain": [0, 3000], "nice": false}},
                   "y": {"field": "t", "type": "quantitative", "title": "Tensão (Pa)", "scale": {"domain": [0, 800000], "nice": false}},
                   "shape": {"field": "pk", "type": "nominal", "scale": {"domain": ["Pico de C x N", "Pico de Tau x N", "Pico de C² x N x (1-C)"], "range": ["diamond", "triangle-up", "square"]}, "legend": {"title": null, "orient": "none", "legendX": 209, "legendY": -2, "symbolSize": 110, "symbolStrokeWidth": 1.5, "labelFontSize": 20, "labelOffset": 13, "labelLimit": 400, "rowPadding": 6}},
                   "fill": {"field": "pk", "type": "nominal", "scale": {"domain": ["Pico de C x N", "Pico de Tau x N", "Pico de C² x N x (1-C)"], "range": ["#ffc000", "#8dc85a", "#00b0f0"]}, "legend": {"title": null, "orient": "none", "legendX": 209, "legendY": -2, "symbolSize": 110, "symbolStrokeWidth": 1.5, "labelFontSize": 20, "labelOffset": 13, "labelLimit": 400, "rowPadding": 6}},
                   "stroke": {"field": "pk", "type": "nominal", "scale": {"domain": ["Pico de C x N", "Pico de Tau x N", "Pico de C² x N x (1-C)"], "range": ["#ff4000", "#5f8f3a", "#2020ff"]}, "legend": {"title": null, "orient": "none", "legendX": 209, "legendY": -2, "symbolSize": 110, "symbolStrokeWidth": 1.5, "labelFontSize": 20, "labelOffset": 13, "labelLimit": 400, "rowPadding": 6}}
                 }}
              ]
            }
          ],
          "spacing": 0,
          "bounds": "flush"
        }
      ],
      "spacing": 73,
      "bounds": "flush"
    }
  ],
  "spacing": 10
}
